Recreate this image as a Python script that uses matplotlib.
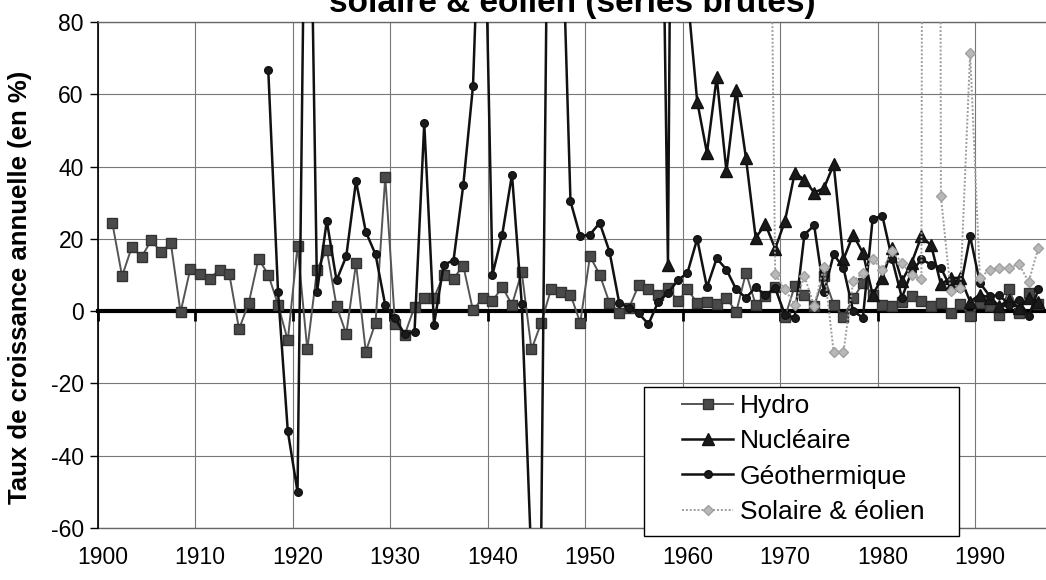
import numpy as np
import matplotlib
matplotlib.use("Agg")
import matplotlib.pyplot as plt
from matplotlib.patches import Rectangle

plt.rcParams["font.family"] = ["Liberation Sans", "DejaVu Sans"]
plt.rcParams["axes.unicode_minus"] = False

TITLE = "solaire & éolien (séries brutes)"
YLABEL = "Taux de croissance annuelle (en %)"

# --- données (taux de croissance annuel, en %) ---
HYDRO_START = 1901
hydro = [24.4, 9.7, 17.7, 15.0, 19.6, 16.3, 18.9, -0.3, 11.7,            # 1901-1909
         10.3, 9.0, 11.5, 10.3, -5.0, 2.3, 14.5, 10.1, 1.8, -8.1,        # 1910-1919
         18.0, -10.6, 11.5, 17.0, 1.4, -6.3, 13.2, -11.2, -3.2, 37.2,    # 1920-1929
         -3.5, -6.5, 1.2, 3.7, 3.7, 10.1, 9.0, 12.6, 0.2, 3.7,           # 1930-1939
         2.8, 6.7, 1.8, 10.8, -10.6, -3.2, 6.0, 5.3, 4.6, -3.2,          # 1940-1949
         15.2, 10.1, 2.3, -0.5, 0.9, 7.2, 6.0, 4.4, 6.5, 2.8,            # 1950-1959
         6.0, 2.3, 2.6, 2.0, 3.7, -0.3, 10.6, 1.8, 4.2, 6.6,             # 1960-1969
         -1.7, 6.9, 4.6, 1.4, 9.7, 1.8, -1.7, 3.5, 7.8, 4.6,             # 1970-1979
         1.8, 1.5, 2.5, 4.2, 2.8, 1.5, 2.3, -0.5, 2.0, -1.4,             # 1980-1989
         2.3, 1.5, -1.0, 6.0, -0.5, 5.0, 2.0]                            # 1990-1996

NUCL_START = 1957
nucleaire = [210.0, 12.7, 400.0,                                         # 1957-1959
             88.0, 58.0, 43.8, 64.7, 38.7, 61.3, 42.4, 20.3, 24.0, 17.3, # 1960-1969
             24.9, 38.2, 36.4, 32.8, 34.0, 40.6, 14.3, 21.1, 16.1, 4.6,  # 1970-1979
             9.2, 17.5, 8.3, 13.4, 20.7, 18.2, 7.4, 9.2, 9.2, 2.6,       # 1980-1989
             4.6, 3.7, 1.5, 3.0, 1.0, 3.5, 2.5]                          # 1990-1996

GEO_START = 1917
geotherm = [66.6, 5.3, -33.2,                                            # 1917-1919
            -50.0, 180.0, 5.3, 25.0, 8.5, 15.2, 36.0, 22.0, 15.7, 1.6,   # 1920-1929
            -2.0, -6.4, -5.8, 52.0, -3.7, 12.9, 14.0, 34.8, 62.3, 140.0, # 1930-1939
            10.1, 21.2, 37.8, 2.1, -70.0, -62.0, 215.0, 122.0, 30.4, 20.7,  # 1940-1949
            21.2, 24.4, 16.5, 2.3, 0.9, -0.6, -3.6, 2.6, 5.0, 8.5,       # 1950-1959
            10.6, 20.0, 6.6, 14.6, 11.5, 6.0, 3.7, 6.6, 4.4, 6.4,        # 1960-1969
            -1.0, -1.8, 21.2, 23.7, 5.3, 15.7, 12.0, 0.0, -1.8, 25.6,    # 1970-1979
            26.3, 14.3, 3.7, 11.0, 14.3, 12.9, 12.0, 6.4, 6.5, 20.7,     # 1980-1989
            7.8, 4.2, 4.4, 1.8, 3.0, -1.4, 6.0]                          # 1990-1996

SOL_START = 1968
solaire = [250.0, 10.2,                                                  # 1968-1969
           6.0, 1.8, 9.7, 1.4, 12.2, -11.3, -11.3, 8.3, 10.6, 14.3,      # 1970-1979
           11.5, 16.6, 13.4, 9.9, 8.8, 1500.0, 31.8, 5.5, 6.4, 71.5,     # 1980-1989
           9.2, 11.5, 12.0, 12.0, 13.1, 8.1, 17.5]                       # 1990-1996

decades = list(range(1900, 2000, 10))
yticks = list(range(-60, 81, 20))


def years(start, values):
    return np.arange(start, start + len(values))


W, H = 1046, 580
fig = plt.figure(figsize=(W / 100, H / 100), dpi=100)
ax = fig.add_axes([97.7 / W, 52 / H, (W - 97.7) / W, 506 / H])

ax.plot(years(HYDRO_START, hydro), hydro, color="#555555", lw=1.4,
        marker="s", ms=7.3, mfc="#4a4a4a", mec="#333333", label="Hydro", zorder=3)
ax.plot(years(NUCL_START, nucleaire), nucleaire, color="#111111", lw=1.8,
        marker="^", ms=8, mfc="#1a1a1a", mec="#111111", label="Nucléaire", zorder=4)
ax.plot(years(GEO_START, geotherm), geotherm, color="#111111", lw=1.8,
        marker="o", ms=5.5, mfc="#1a1a1a", mec="#111111", label="Géothermique", zorder=5)
ax.plot(years(SOL_START, solaire), solaire, color="#9c9c9c", lw=1.4, ls=(0, (1, 1)),
        marker="D", ms=5.5, mfc="#b8b8b8", mec="#a0a0a0", label="Solaire & éolien", zorder=6)

ax.set_xlim(1899.5, 1899.5 + (W - 97.7) / 9.748)
ax.set_ylim(-60, 80)

# axe des catégories : trait épais à 0, graduations aux limites de décennies
ax.set_xticks([d - 0.5 for d in decades])
ax.tick_params(axis="x", direction="out", length=7, width=2, color="black", labelbottom=False)
ax.spines["bottom"].set_position(("data", 0))
ax.spines["bottom"].set_linewidth(3)
ax.spines["bottom"].set_color("black")
ax.spines["right"].set_visible(False)
ax.spines["top"].set_color("#666666")
ax.spines["top"].set_linewidth(1)
ax.spines["left"].set_color("black")
ax.spines["left"].set_linewidth(1.2)

ax.set_yticks(yticks)
ax.set_yticklabels([str(v) for v in yticks])
ax.tick_params(axis="y", direction="out", length=6, width=1, labelsize=16.5, pad=4)

ax.grid(True, color="#777777", lw=0.8)
ax.set_axisbelow(True)

secx = ax.secondary_xaxis("bottom")
secx.set_xticks(decades)
secx.set_xticklabels([str(d) for d in decades])
secx.tick_params(length=0, labelsize=16.5, pad=13)
secx.spines["bottom"].set_color("#666666")
secx.spines["bottom"].set_linewidth(1)

fig.text(572 / W, 1 - 12 / H, TITLE, ha="center", va="baseline",
         fontsize=24, fontweight="bold")
fig.text(20 / W, 1 - 287 / H, YLABEL, rotation=90, ha="center", va="center",
         fontsize=18.5, fontweight="bold")

# légende : cadre dessiné à part pour régler les marges
fig.add_artist(Rectangle((644 / W, 1 - 536 / H), 315 / W, 149 / H, transform=fig.transFigure,
                         facecolor="white", edgecolor="black", lw=1.0, zorder=3))
handles, labels = ax.get_legend_handles_labels()
fig.legend(handles, labels, loc="upper left", bbox_to_anchor=(682 / W, 1 - 394 / H),
           frameon=False, fontsize=19, handlelength=1.95, handletextpad=0.25,
           labelspacing=0.43, borderpad=0, borderaxespad=0, numpoints=1)

fig.savefig("out.png", dpi=100)
